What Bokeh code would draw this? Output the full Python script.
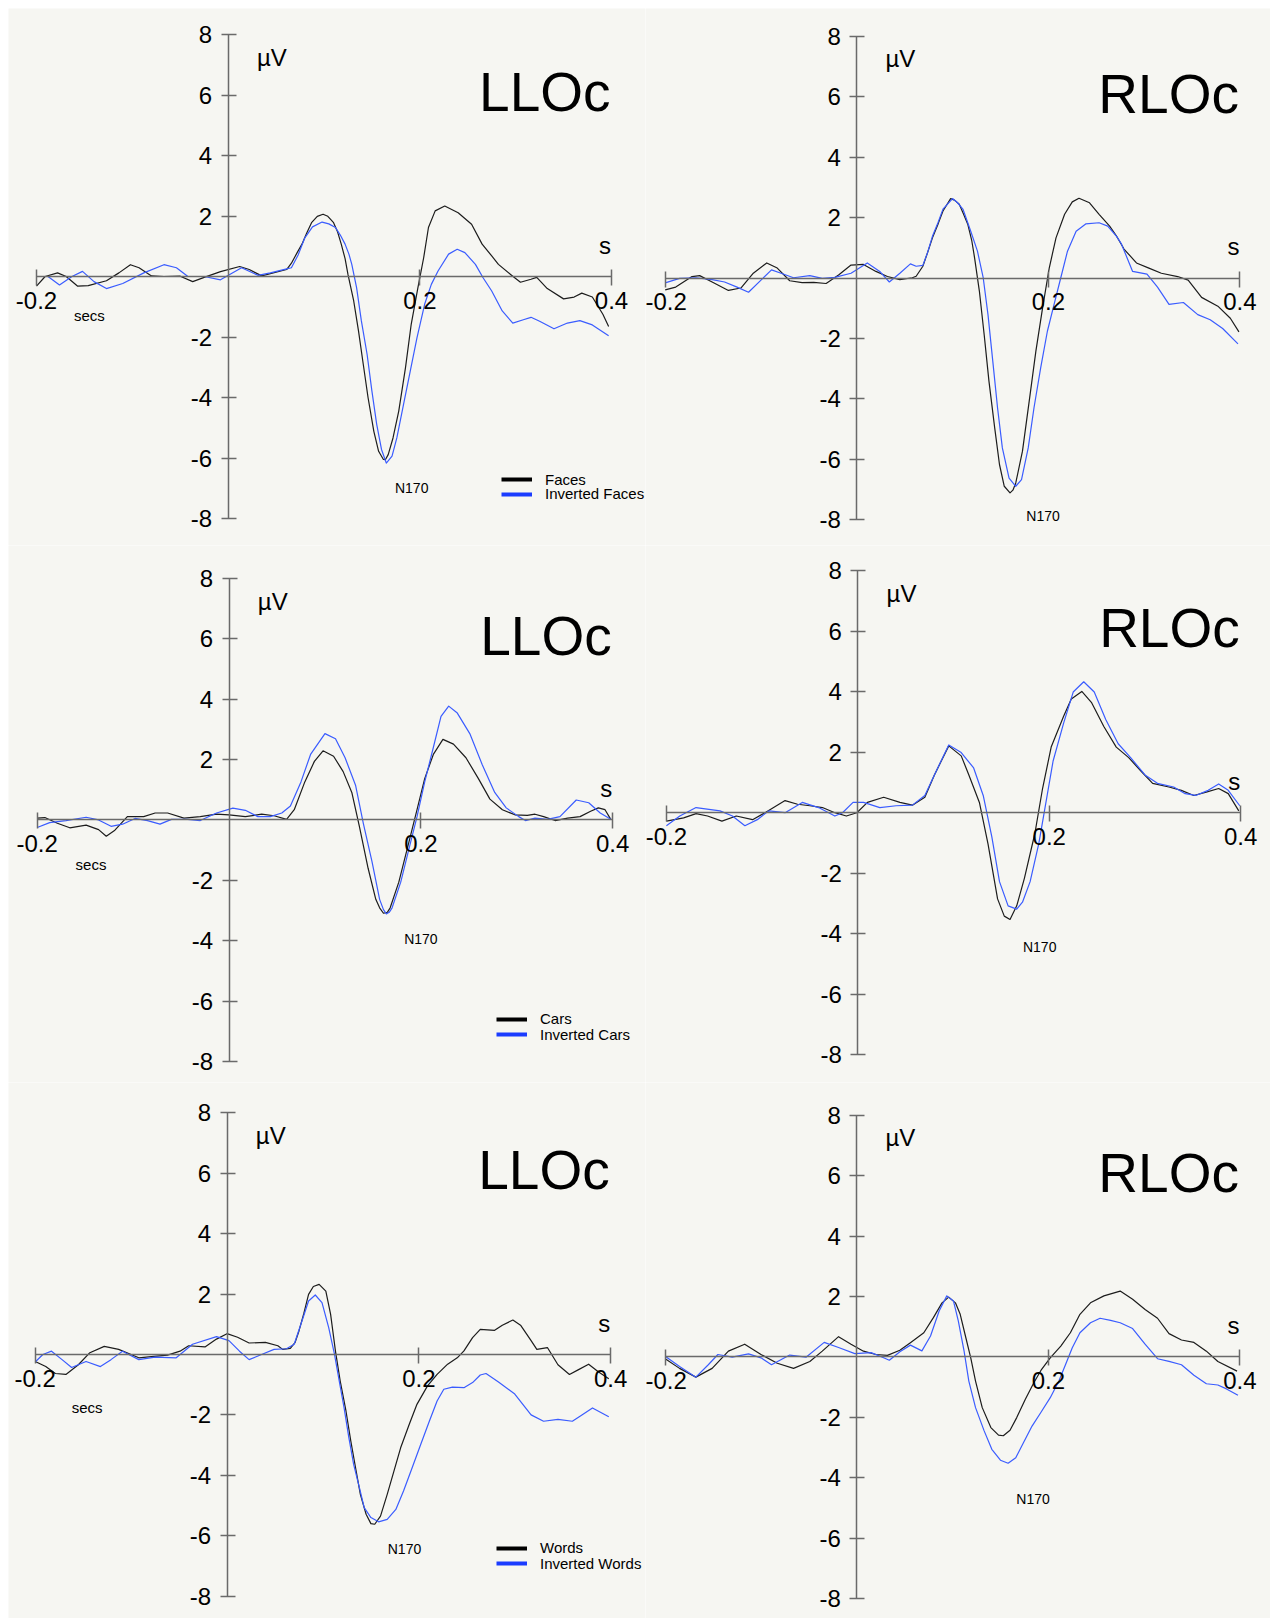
from bokeh.plotting import figure
from bokeh.models import Range1d, LinearAxis, FixedTicker, Label, Legend, LegendItem, CustomJSTickFormatter
from bokeh.layouts import row, column
from bokeh.embed import file_html
from bokeh.resources import INLINE

# ---------------- data: [time (ms), amplitude (µV)] ----------------
FACES_L = [[-200,-0.31],[-191,0.01],[-178,0.13],[-169,0.01],[-157,-0.31],[-146,-0.29],[-127,-0.13],
           [-114,0.13],[-102,0.40],[-93,0.30],[-80,0.03],[-67,0.01],[-50,0.02],[-37,-0.16],[-25,-0.02],
           [-8,0.17],[12,0.34],[22,0.24],[35,0.03],[61,0.24],[66,0.45],[72,0.80],[77,1.08],[82,1.45],
           [87,1.79],[93,2.00],[99,2.07],[104,2.00],[110,1.79],[114,1.50],[118,1.08],[122,0.60],
           [125,0.08],[131,-0.80],[136,-1.79],[141,-2.90],[146,-4.00],[152,-5.11],[157,-5.77],
           [162,-6.04],[164,-6.05],[167,-5.88],[172,-5.33],[178,-4.44],[185,-3.01],[191,-1.57],
           [198,-0.36],[204,0.63],[209,1.63],[216,2.18],[226,2.34],[240,2.12],[254,1.74],[265,1.08],
           [275,0.69],[282,0.41],[295,0.07],[305,-0.18],[316,-0.08],[322,-0.02],[333,-0.39],
           [350,-0.73],[361,-0.67],[369,-0.54],[380,-0.67],[391,-1.24],[397,-1.64]]
INV_FACES_L = [[-200,0.01],[-188,0.01],[-176,-0.27],[-163,0.01],[-152,0.18],[-140,-0.16],[-127,-0.39],
               [-110,-0.22],[-88,0.13],[-67,0.40],[-54,0.30],[-42,0.01],[-25,0.01],[-8,-0.10],[14,0.30],
               [31,0.05],[44,0.13],[61,0.26],[66,0.30],[73,0.72],[80,1.29],[88,1.65],[98,1.81],
               [105,1.75],[112,1.63],[117,1.38],[122,1.08],[126,0.75],[129,0.41],[134,-0.36],
               [139,-1.46],[145,-2.57],[150,-3.78],[155,-4.88],[160,-5.71],[165,-6.16],[171,-5.93],
               [176,-5.33],[183,-4.22],[190,-3.12],[197,-2.02],[205,-0.91],[212,-0.25],[219,0.19],
               [230,0.75],[239,0.91],[247,0.80],[258,0.41],[266,-0.03],[275,-0.47],[286,-1.13],
               [297,-1.53],[308,-1.42],[316,-1.34],[325,-1.47],[340,-1.72],[354,-1.53],[367,-1.45],
               [380,-1.59],[397,-1.95]]
FACES_R = [[-200,-0.39],[-189,-0.30],[-172,0.05],[-164,0.08],[-151,-0.13],[-134,-0.41],[-121,-0.33],
           [-108,0.16],[-94,0.50],[-83,0.33],[-70,-0.09],[-57,-0.15],[-45,-0.14],[-32,-0.18],[-19,0.10],
           [-6,0.43],[7,0.45],[20,0.22],[32,0.05],[45,-0.05],[58,0.01],[62,0.06],[69,0.39],[74,0.85],
           [79,1.33],[85,1.80],[90,2.22],[98,2.63],[102,2.58],[107,2.44],[111,2.15],[116,1.77],
           [120,1.25],[123,0.67],[128,-0.43],[133,-1.87],[138,-3.41],[144,-4.96],[149,-6.17],
           [154,-6.89],[160,-7.11],[163,-7.02],[166,-6.78],[173,-5.73],[180,-4.08],[187,-2.42],
           [194,-0.99],[201,0.34],[208,1.33],[217,2.11],[225,2.52],[232,2.64],[243,2.49],[253,2.11],
           [264,1.72],[271,1.40],[279,0.96],[292,0.50],[305,0.33],[318,0.16],[335,0.05],[346,-0.07],
           [360,-0.64],[377,-0.93],[390,-1.33],[399,-1.78]]
INV_FACES_R = [[-200,-0.16],[-185,-0.01],[-168,0.01],[-151,-0.05],[-138,-0.13],[-125,-0.30],[-113,-0.47],
               [-100,-0.07],[-89,0.27],[-79,0.16],[-66,0.01],[-49,0.08],[-36,-0.01],[-23,0.02],[-6,0.16],
               [11,0.50],[24,0.22],[34,-0.13],[45,0.16],[56,0.47],[62,0.39],[69,0.42],[74,0.85],
               [79,1.38],[85,1.85],[90,2.28],[100,2.63],[105,2.50],[111,2.27],[119,1.55],[126,0.89],
               [132,0.01],[137,-1.21],[142,-2.75],[147,-4.30],[152,-5.62],[159,-6.62],[166,-6.89],
               [172,-6.67],[179,-5.62],[185,-4.30],[192,-2.97],[199,-1.76],[206,-0.87],[213,0.01],
               [220,0.89],[229,1.55],[239,1.79],[253,1.83],[262,1.72],[271,1.39],[276,1.15],[288,0.22],
               [303,0.13],[314,-0.30],[326,-0.87],[341,-0.81],[356,-1.21],[369,-1.38],[382,-1.67],
               [398,-2.18]]
CARS_L = [[-200,0.06],[-192,0.08],[-179,-0.11],[-166,-0.26],[-149,-0.17],[-136,-0.32],[-128,-0.54],
          [-119,-0.34],[-106,0.11],[-89,0.11],[-77,0.23],[-64,0.23],[-47,0.06],[-30,0.11],[-13,0.19],
          [0,0.17],[17,0.11],[34,0.19],[47,0.14],[60,0.02],[68,0.34],[79,1.26],[89,1.94],[98,2.29],
          [109,2.11],[119,1.60],[128,0.91],[136,-0.23],[145,-1.60],[153,-2.63],[157,-2.91],
          [161,-3.09],[165,-3.06],[168,-2.91],[177,-2.06],[187,-0.80],[196,0.34],[204,1.37],
          [213,2.17],[223,2.67],[234,2.51],[247,2.06],[260,1.37],[272,0.69],[285,0.34],[298,0.17],
          [311,0.15],[319,0.19],[328,0.11],[340,-0.02],[353,0.06],[366,0.11],[377,0.29],[385,0.40],
          [392,0.34],[398,0.02]]
INV_CARS_L = [[-200,-0.25],[-187,-0.09],[-170,-0.02],[-149,0.09],[-136,0.00],[-123,-0.21],[-111,-0.14],
              [-98,0.05],[-85,-0.02],[-72,-0.14],[-60,0.02],[-43,0.02],[-30,-0.02],[-13,0.23],[4,0.39],
              [17,0.32],[30,0.11],[43,0.11],[55,0.23],[64,0.46],[75,1.26],[85,2.17],[100,2.86],
              [111,2.69],[121,2.06],[132,1.14],[140,-0.11],[149,-1.37],[157,-2.63],[161,-2.97],
              [164,-3.11],[167,-3.06],[170,-2.91],[179,-2.06],[187,-1.03],[196,0.11],[204,1.26],
              [213,2.40],[221,3.43],[229,3.77],[238,3.54],[251,2.86],[264,1.83],[277,0.91],[289,0.40],
              [302,0.11],[309,-0.02],[319,0.06],[332,0.02],[345,0.11],[362,0.66],[375,0.57],[387,0.23],
              [398,0.02]]
CARS_R = [[-200,-0.28],[-182,-0.17],[-169,-0.03],[-157,-0.11],[-142,-0.28],[-127,-0.11],[-110,-0.23],
          [-97,0.00],[-76,0.40],[-63,0.28],[-50,0.23],[-37,0.17],[-24,0.00],[-12,-0.11],[-1,0.00],
          [10,0.34],[27,0.51],[44,0.34],[57,0.25],[70,0.51],[80,1.25],[95,2.21],[108,1.88],[116,1.25],
          [127,0.34],[136,-1.03],[146,-2.85],[153,-3.42],[159,-3.53],[166,-3.08],[174,-2.17],
          [185,-0.68],[193,0.80],[202,2.17],[215,3.19],[223,3.76],[234,4.01],[244,3.65],[257,2.85],
          [270,2.17],[283,1.82],[296,1.37],[308,0.97],[325,0.85],[338,0.74],[351,0.57],[364,0.68],
          [377,0.80],[387,0.63],[398,0.06]]
INV_CARS_R = [[-200,-0.43],[-186,-0.11],[-169,0.17],[-144,0.06],[-131,-0.11],[-118,-0.43],[-105,-0.23],
              [-93,0.06],[-76,0.00],[-58,0.34],[-41,0.17],[-24,-0.11],[-16,0.00],[-5,0.34],[6,0.34],
              [23,0.17],[40,0.23],[57,0.25],[70,0.57],[80,1.25],[95,2.24],[108,1.99],[121,1.48],
              [131,0.57],[140,-0.80],[148,-2.28],[157,-3.08],[166,-3.19],[172,-2.96],[180,-2.28],
              [189,-1.03],[195,0.06],[204,1.71],[215,2.96],[225,3.99],[236,4.33],[247,3.99],[259,3.08],
              [272,2.28],[285,1.82],[300,1.25],[313,0.97],[330,0.85],[342,0.63],[353,0.57],[366,0.74],
              [377,0.95],[387,0.74],[399,0.23]]
WORDS_L = [[-200,-0.23],[-189,-0.40],[-179,-0.63],[-168,-0.66],[-155,-0.34],[-143,0.06],[-128,0.27],
           [-113,0.17],[-100,0.00],[-92,-0.11],[-79,-0.07],[-62,-0.02],[-49,0.11],[-40,0.29],[-23,0.25],
           [-11,0.51],[0,0.69],[11,0.57],[23,0.38],[40,0.40],[53,0.29],[58,0.17],[66,0.20],[71,0.40],
           [75,0.78],[80,1.35],[85,1.99],[90,2.25],[96,2.32],[103,2.10],[108,1.33],[113,0.12],
           [118,-0.88],[124,-1.87],[129,-2.86],[134,-3.75],[139,-4.63],[145,-5.29],[150,-5.60],
           [154,-5.62],[160,-5.35],[167,-4.63],[174,-3.86],[181,-3.09],[190,-2.31],[198,-1.65],
           [209,-1.04],[219,-0.66],[230,-0.32],[240,-0.11],[247,0.12],[256,0.56],[264,0.83],
           [279,0.80],[287,0.97],[298,1.14],[306,0.97],[317,0.46],[323,0.17],[334,0.23],[345,-0.34],
           [357,-0.66],[366,-0.51],[377,-0.32],[387,-0.57],[398,-0.80]]
INV_WORDS_L = [[-200,-0.25],[-192,0.00],[-183,0.11],[-172,-0.17],[-162,-0.43],[-147,-0.23],[-132,-0.40],
               [-121,-0.17],[-109,0.11],[-92,-0.17],[-75,-0.09],[-53,-0.11],[-36,0.34],[-11,0.59],
               [2,0.46],[13,0.11],[23,-0.17],[36,0.00],[49,0.17],[62,0.19],[70,0.34],[77,1.00],
               [85,1.77],[92,1.97],[99,1.72],[106,0.89],[112,0.01],[117,-0.88],[122,-1.76],[127,-2.75],
               [132,-3.64],[138,-4.41],[143,-5.07],[150,-5.40],[158,-5.54],[167,-5.46],[176,-5.13],
               [184,-4.52],[193,-3.75],[202,-2.97],[211,-2.20],[219,-1.54],[226,-1.15],[235,-1.08],
               [247,-1.10],[256,-0.93],[264,-0.68],[270,-0.63],[283,-0.91],[300,-1.31],[317,-2.00],
               [330,-2.21],[345,-2.15],[360,-2.21],[370,-2.00],[381,-1.77],[398,-2.06]]
WORDS_R = [[-200,-0.06],[-185,-0.38],[-168,-0.67],[-151,-0.38],[-134,0.19],[-117,0.42],[-100,0.08],
           [-83,-0.21],[-66,-0.38],[-49,-0.15],[-36,0.19],[-19,0.67],[-6,0.42],[7,0.19],[20,0.08],
           [32,0.05],[45,0.22],[56,0.47],[70,0.80],[80,1.30],[89,1.79],[96,1.98],[103,1.79],
           [108,1.41],[113,0.75],[119,-0.03],[124,-0.80],[131,-1.68],[140,-2.34],[148,-2.59],
           [153,-2.61],[160,-2.43],[167,-2.01],[176,-1.40],[185,-0.85],[193,-0.41],[202,-0.03],
           [213,0.36],[223,0.80],[233,1.41],[244,1.79],[258,2.02],[275,2.18],[288,1.91],[301,1.57],
           [314,1.28],[326,0.77],[339,0.56],[352,0.48],[365,0.19],[377,-0.15],[397,-0.47]]
INV_WORDS_R = [[-200,0.02],[-185,-0.32],[-168,-0.67],[-155,-0.26],[-145,0.08],[-130,-0.01],[-113,0.10],
               [-100,-0.03],[-89,-0.26],[-70,0.06],[-53,-0.01],[-34,0.48],[-19,0.31],[-2,0.11],
               [15,0.14],[28,-0.03],[34,-0.11],[45,0.17],[56,0.39],[68,0.20],[77,0.69],[86,1.52],
               [94,2.02],[101,1.85],[106,1.19],[112,0.20],[117,-0.80],[124,-1.68],[133,-2.45],
               [141,-3.06],[150,-3.42],[158,-3.52],[166,-3.34],[174,-2.84],[183,-2.29],[192,-1.85],
               [202,-1.35],[211,-0.80],[218,-0.25],[225,0.30],[233,0.80],[244,1.13],[254,1.28],
               [265,1.21],[275,1.13],[288,0.94],[301,0.42],[314,-0.06],[326,-0.15],[339,-0.26],
               [352,-0.61],[365,-0.89],[377,-0.93],[386,-1.06],[398,-1.27]]

XTICKS = [-0.2, 0.2, 0.4]
YTICKS = [-8, -6, -4, -2, 2, 4, 6, 8]
X_BOUNDS = (-0.2, 0.4)
Y_BOUNDS = (-8, 8)

# ---------------- styles ----------------
BG = "#f6f6f2"
AXC = "#6a6a6a"
BLACK = "#1c1c1c"
BLUE = "#3a5cff"
LEG_BLACK = "#000000"
LEG_BLUE = "#1b3cff"
FONT = "Liberation Sans"

# frame: (width, height, page_left, page_top); px: page x of -0.2, x of 0.4, y of 8, y of -8
PANELS = [
    dict(key="TL", title="LLOc", a=FACES_L, b=INV_FACES_L, names=("Faces", "Inverted Faces"),
         frame=(637, 537, 8, 8), px=(36.0, 611.0, 34.4, 518.2),
         n170=(0.1915, -6.99), secs=(-0.161, -1.29), leg=(493, 57.5, 42.8)),
    dict(key="TR", title="RLOc", a=FACES_R, b=INV_FACES_R, names=None,
         frame=(625, 537, 645, 8), px=(664.7, 1239.4, 35.8, 519.3),
         n170=(0.1945, -7.88), secs=None, leg=None),
    dict(key="ML", title="LLOc", a=CARS_L, b=INV_CARS_L, names=("Cars", "Inverted Cars"),
         frame=(637, 537, 8, 545), px=(36.7, 612.2, 577.9, 1061.0),
         n170=(0.200, -3.94), secs=(-0.160, -1.49), leg=(488, 54.9, 39.5)),
    dict(key="MR", title="RLOc", a=CARS_R, b=INV_CARS_R, names=None,
         frame=(625, 537, 645, 545), px=(665.9, 1240.2, 570.3, 1054.1),
         n170=(0.190, -4.44), secs=None, leg=None),
    dict(key="BL", title="LLOc", a=WORDS_L, b=INV_WORDS_L, names=("Words", "Inverted Words"),
         frame=(637, 536, 8, 1082), px=(34.7, 610.2, 1112.4, 1595.6),
         n170=(0.185, -6.44), secs=(-0.162, -1.77), leg=(488, 61.8, 46.5)),
    dict(key="BR", title="RLOc", a=WORDS_R, b=INV_WORDS_R, names=None,
         frame=(625, 536, 645, 1082), px=(664.7, 1239.4, 1114.8, 1598.0),
         n170=(0.184, -4.71), secs=None, leg=None),
]

FMT = "return tick.toString();"


def make_panel(s):
    W, H, L, T = s["frame"]
    xm, xp, y8, ym8 = s["px"]
    sx = 0.6 / (xp - xm)
    x0 = -0.2 - (xm - L) * sx
    x1 = x0 + W * sx
    sy = 16.0 / (ym8 - y8)
    y1 = 8 + (y8 - T) * sy
    y0 = y1 - H * sy

    p = figure(width=W, height=H, x_range=Range1d(x0, x1), y_range=Range1d(y0, y1),
               output_backend="svg", toolbar_location=None,
               x_axis_location=None, y_axis_location=None, min_border=0,
               background_fill_color=BG, border_fill_color=BG, outline_line_color=None)
    p.xgrid.visible = False
    p.ygrid.visible = False

    xa = LinearAxis(fixed_location=0, bounds=X_BOUNDS, ticker=FixedTicker(ticks=XTICKS),
                    formatter=CustomJSTickFormatter(code=FMT),
                    axis_line_color=AXC, axis_line_width=1.5,
                    major_tick_line_color=AXC, major_tick_line_width=1.5,
                    major_tick_in=7, major_tick_out=9, minor_tick_line_color=None,
                    major_label_text_font=FONT, major_label_text_font_size="24px",
                    major_label_text_color="black", major_label_standoff=6)
    ya = LinearAxis(fixed_location=0, bounds=Y_BOUNDS, ticker=FixedTicker(ticks=YTICKS),
                    formatter=CustomJSTickFormatter(code=FMT),
                    axis_line_color=AXC, axis_line_width=1.5,
                    major_tick_line_color=AXC, major_tick_line_width=1.5,
                    major_tick_in=8, major_tick_out=7, minor_tick_line_color=None,
                    major_label_text_font=FONT, major_label_text_font_size="24px",
                    major_label_text_color="black", major_label_standoff=9)
    p.add_layout(xa, "below")
    p.add_layout(ya, "left")

    ta = [t / 1000.0 for t, v in s["a"]]
    va = [v for t, v in s["a"]]
    tb = [t / 1000.0 for t, v in s["b"]]
    vb = [v for t, v in s["b"]]
    p.line(ta, va, line_color=BLACK, line_width=1.2, line_join="round")
    p.line(tb, vb, line_color=BLUE, line_width=1.2, line_join="round")

    p.add_layout(Label(x=0.399, y=6.1, text=s["title"], text_font=FONT,
                       text_font_size="55px", text_align="right", text_baseline="alphabetic",
                       text_color="black"))
    p.add_layout(Label(x=0.03, y=7.25, text="µV", text_font=FONT, text_font_size="24px",
                       text_align="left", text_baseline="alphabetic", text_color="black"))
    p.add_layout(Label(x=0.3995, y=1.03, text="s", text_font=FONT, text_font_size="24px",
                       text_align="right", text_baseline="alphabetic", text_color="black"))
    nx, ny = s["n170"]
    p.add_layout(Label(x=nx, y=ny, text="N170", text_font=FONT, text_font_size="14px",
                       text_align="center", text_baseline="alphabetic", text_color="black"))
    if s["secs"] is not None:
        qx, qy = s["secs"]
        p.add_layout(Label(x=qx, y=qy, text="secs", text_font=FONT, text_font_size="15px",
                           text_align="left", text_baseline="alphabetic", text_color="black"))

    if s["names"] is not None:
        lx, ly1, ly2 = s["leg"]
        nan = float("nan")
        d1 = p.line([nan], [nan], line_color=LEG_BLACK, line_width=4)
        d2 = p.line([nan], [nan], line_color=LEG_BLUE, line_width=4)
        for name, rend, ly in ((s["names"][0], d1, ly1), (s["names"][1], d2, ly2)):
            leg = Legend(items=[LegendItem(label=name, renderers=[rend])], location=(lx, ly),
                         padding=0, margin=0, spacing=0, glyph_width=31, glyph_height=16,
                         label_height=16, label_standoff=13, border_line_alpha=0,
                         background_fill_alpha=0, label_text_font=FONT,
                         label_text_font_size="15px", label_text_color="black")
            p.add_layout(leg)
    return p


figs = {s["key"]: make_panel(s) for s in PANELS}
layout = row(column(figs["TL"], figs["ML"], figs["BL"]),
             column(figs["TR"], figs["MR"], figs["BR"]),
             margin=(8, 0, 0, 8))

open("out.html", "w").write(file_html(layout, INLINE))
